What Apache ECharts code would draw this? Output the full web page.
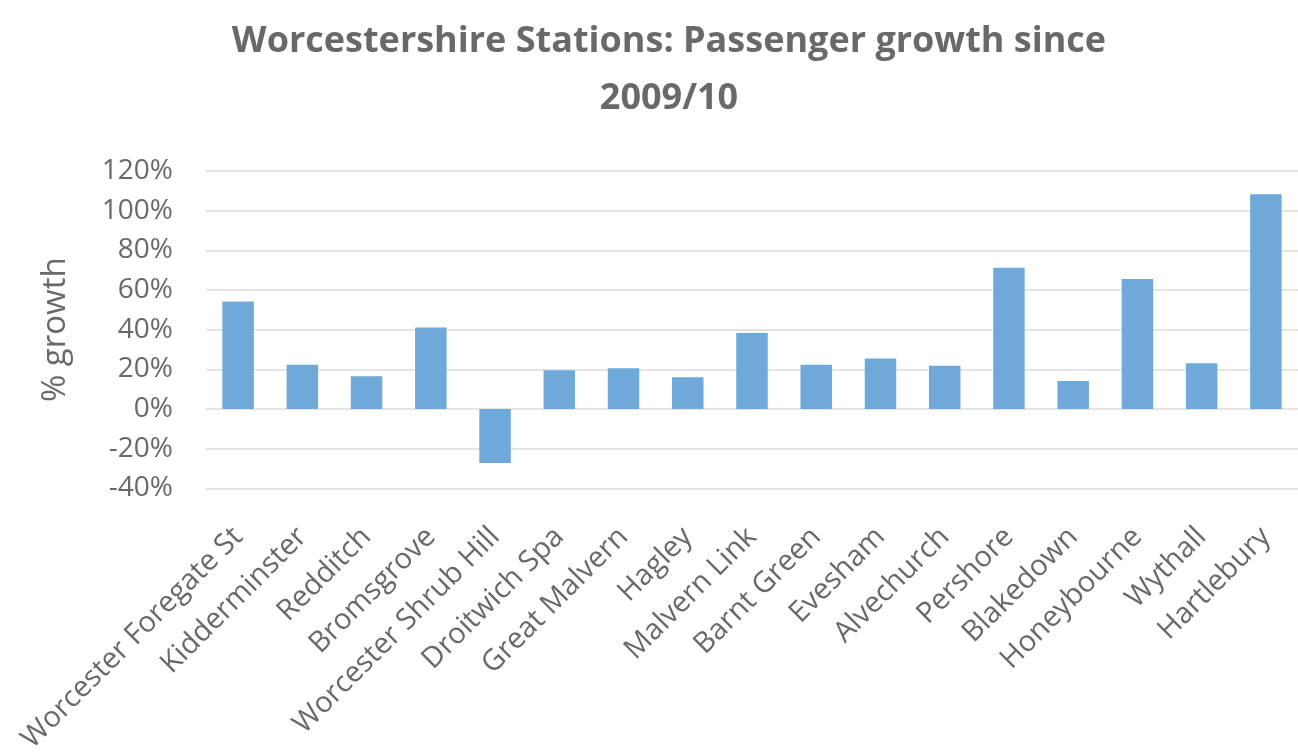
<!DOCTYPE html>
<html>
<head>
<meta charset="utf-8">
<script src="https://cdn.jsdelivr.net/npm/echarts@6/dist/echarts.min.js"></script>
<style>
html,body{margin:0;padding:0;background:#fff;}
#chart{width:1298px;height:756px;}
</style>
</head>
<body>
<div id="chart"></div>
<script>
const titleText = 'Worcestershire Stations: Passenger growth since\n2009/10';
const yAxisName = '% growth';
const stations = ['Worcester Foregate St','Kidderminster','Redditch','Bromsgrove','Worcester Shrub Hill','Droitwich Spa','Great Malvern','Hagley','Malvern Link','Barnt Green','Evesham','Alvechurch','Pershore','Blakedown','Honeybourne','Wythall','Hartlebury'];
const growth = [54.2, 22.3, 16.5, 41.1, -27.3, 19.5, 20.5, 16.0, 38.3, 22.3, 25.4, 21.8, 71.2, 14.1, 65.6, 23.1, 108.3];
const yMin = -40, yMax = 120, yStep = 20;

const gray = '#6b686b';
const chart = echarts.init(document.getElementById('chart'));
chart.setOption({
  backgroundColor: '#fff',
  animation: false,
  title: {
    text: titleText,
    left: 664,
    top: 8,
    textAlign: 'center',
    textStyle: { fontFamily: 'Open Sans', fontWeight: 'bold', fontSize: 36, lineHeight: 57, color: gray }
  },
  grid: { left: 206, top: 171, width: 1100, height: 322, containLabel: false },
  xAxis: {
    type: 'category',
    data: stations,
    axisLine: { show: false, onZero: false },
    axisTick: { show: false },
    axisLabel: { rotate: 45, interval: 0, margin: 44, color: gray, fontFamily: 'Open Sans', fontSize: 29 }
  },
  yAxis: {
    type: 'value',
    min: yMin, max: yMax, interval: yStep,
    name: yAxisName,
    nameLocation: 'middle',
    nameRotate: 90,
    nameGap: 134,
    nameTextStyle: { color: gray, fontFamily: 'Open Sans', fontSize: 33 },
    axisLine: { show: false },
    axisTick: { show: false },
    axisLabel: { formatter: v => v + '%', margin: 33, color: gray, fontFamily: 'Open Sans', fontSize: 28 },
    splitLine: { lineStyle: { color: '#dcdcdc', width: 1.5 } }
  },
  series: [{
    type: 'bar',
    data: growth,
    barWidth: '49%',
    itemStyle: { color: '#6fa9d9' }
  }]
});
</script>
</body>
</html>
